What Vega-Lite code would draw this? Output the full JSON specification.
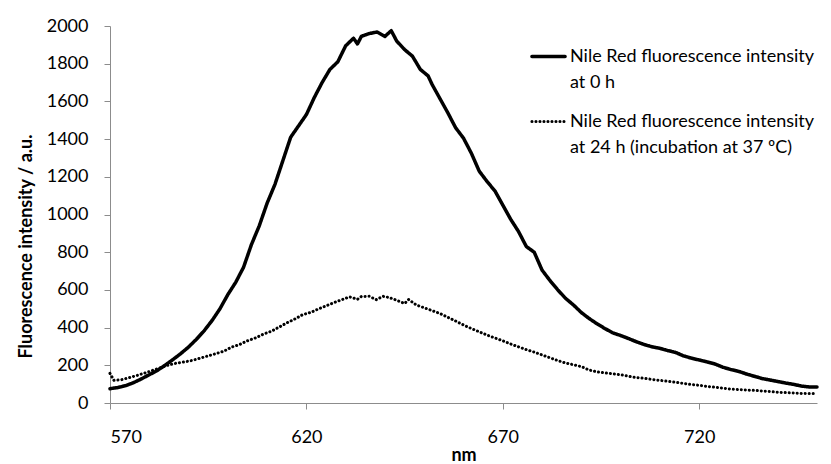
{
  "$schema": "https://vega.github.io/schema/vega-lite/v6.json",
  "width": 707,
  "height": 377,
  "autosize": {"type": "none"},
  "padding": {"left": 110, "top": 26, "right": 14, "bottom": 61},
  "background": "white",
  "config": {
    "view": {"stroke": null},
    "font": "Lato",
    "axis": {
      "grid": false,
      "domainColor": "#8c8c8c",
      "tickColor": "#8c8c8c",
      "tickSize": 6,
      "labelFont": "Lato",
      "labelFontSize": 18,
      "labelColor": "#000000",
      "titleFont": "Lato",
      "titleFontSize": 18,
      "titleFontWeight": "bold",
      "titleColor": "#000000"
    }
  },
  "data": {"values": [
    {"x":570,"y":76,"s":"a"},{"x":572,"y":82,"s":"a"},{"x":574,"y":92,"s":"a"},{"x":576,"y":108,"s":"a"},{"x":578,"y":128,"s":"a"},{"x":580,"y":150,"s":"a"},{"x":582,"y":172,"s":"a"},{"x":584,"y":200,"s":"a"},{"x":586,"y":230,"s":"a"},{"x":588,"y":262,"s":"a"},{"x":590,"y":297,"s":"a"},{"x":592,"y":338,"s":"a"},{"x":594,"y":384,"s":"a"},{"x":596,"y":438,"s":"a"},{"x":598,"y":500,"s":"a"},{"x":600,"y":575,"s":"a"},{"x":602,"y":640,"s":"a"},{"x":604,"y":720,"s":"a"},{"x":606,"y":840,"s":"a"},{"x":608,"y":940,"s":"a"},{"x":610,"y":1060,"s":"a"},{"x":612,"y":1160,"s":"a"},{"x":614,"y":1285,"s":"a"},{"x":616,"y":1410,"s":"a"},{"x":618,"y":1470,"s":"a"},{"x":620,"y":1530,"s":"a"},{"x":622,"y":1620,"s":"a"},{"x":624,"y":1700,"s":"a"},{"x":626,"y":1770,"s":"a"},{"x":628,"y":1810,"s":"a"},{"x":630,"y":1895,"s":"a"},{"x":632,"y":1935,"s":"a"},{"x":633,"y":1905,"s":"a"},{"x":634,"y":1945,"s":"a"},{"x":636,"y":1960,"s":"a"},{"x":638,"y":1968,"s":"a"},{"x":640,"y":1945,"s":"a"},{"x":641.6,"y":1975,"s":"a"},{"x":643,"y":1920,"s":"a"},{"x":645,"y":1875,"s":"a"},{"x":647,"y":1840,"s":"a"},{"x":649,"y":1770,"s":"a"},{"x":651,"y":1735,"s":"a"},{"x":652,"y":1690,"s":"a"},{"x":654,"y":1615,"s":"a"},{"x":656,"y":1540,"s":"a"},{"x":658,"y":1460,"s":"a"},{"x":660,"y":1405,"s":"a"},{"x":662,"y":1325,"s":"a"},{"x":664,"y":1230,"s":"a"},{"x":666,"y":1175,"s":"a"},{"x":668,"y":1125,"s":"a"},{"x":670,"y":1050,"s":"a"},{"x":672,"y":975,"s":"a"},{"x":674,"y":910,"s":"a"},{"x":676,"y":830,"s":"a"},{"x":678,"y":800,"s":"a"},{"x":680,"y":705,"s":"a"},{"x":682,"y":650,"s":"a"},{"x":684,"y":600,"s":"a"},{"x":686,"y":555,"s":"a"},{"x":688,"y":520,"s":"a"},{"x":690,"y":480,"s":"a"},{"x":692,"y":448,"s":"a"},{"x":694,"y":420,"s":"a"},{"x":696,"y":395,"s":"a"},{"x":698,"y":372,"s":"a"},{"x":700,"y":358,"s":"a"},{"x":702,"y":342,"s":"a"},{"x":704,"y":325,"s":"a"},{"x":706,"y":310,"s":"a"},{"x":708,"y":298,"s":"a"},{"x":710,"y":290,"s":"a"},{"x":712,"y":278,"s":"a"},{"x":714,"y":268,"s":"a"},{"x":716,"y":250,"s":"a"},{"x":718,"y":238,"s":"a"},{"x":720,"y":228,"s":"a"},{"x":722,"y":218,"s":"a"},{"x":724,"y":207,"s":"a"},{"x":726,"y":190,"s":"a"},{"x":728,"y":178,"s":"a"},{"x":730,"y":168,"s":"a"},{"x":732,"y":154,"s":"a"},{"x":734,"y":142,"s":"a"},{"x":736,"y":130,"s":"a"},{"x":738,"y":122,"s":"a"},{"x":740,"y":114,"s":"a"},{"x":742,"y":106,"s":"a"},{"x":744,"y":99,"s":"a"},{"x":746,"y":90,"s":"a"},{"x":748,"y":85,"s":"a"},{"x":750,"y":85,"s":"a"},
    {"x":570,"y":157,"s":"b"},{"x":571,"y":120,"s":"b"},{"x":573,"y":124,"s":"b"},{"x":575,"y":135,"s":"b"},{"x":577,"y":147,"s":"b"},{"x":579,"y":160,"s":"b"},{"x":581,"y":174,"s":"b"},{"x":583,"y":188,"s":"b"},{"x":585,"y":202,"s":"b"},{"x":587,"y":212,"s":"b"},{"x":589,"y":218,"s":"b"},{"x":591,"y":226,"s":"b"},{"x":593,"y":238,"s":"b"},{"x":595,"y":250,"s":"b"},{"x":597,"y":262,"s":"b"},{"x":599,"y":275,"s":"b"},{"x":601,"y":297,"s":"b"},{"x":603,"y":310,"s":"b"},{"x":605,"y":330,"s":"b"},{"x":607,"y":345,"s":"b"},{"x":609,"y":365,"s":"b"},{"x":611,"y":380,"s":"b"},{"x":613,"y":402,"s":"b"},{"x":615,"y":425,"s":"b"},{"x":617,"y":445,"s":"b"},{"x":619,"y":468,"s":"b"},{"x":621,"y":480,"s":"b"},{"x":623,"y":498,"s":"b"},{"x":625,"y":515,"s":"b"},{"x":627,"y":532,"s":"b"},{"x":629,"y":548,"s":"b"},{"x":631,"y":563,"s":"b"},{"x":633,"y":550,"s":"b"},{"x":634,"y":565,"s":"b"},{"x":636,"y":566,"s":"b"},{"x":637.8,"y":548,"s":"b"},{"x":639.5,"y":566,"s":"b"},{"x":641,"y":560,"s":"b"},{"x":643,"y":545,"s":"b"},{"x":645,"y":528,"s":"b"},{"x":646,"y":549,"s":"b"},{"x":648,"y":520,"s":"b"},{"x":650,"y":505,"s":"b"},{"x":652,"y":490,"s":"b"},{"x":654,"y":475,"s":"b"},{"x":656,"y":455,"s":"b"},{"x":658,"y":435,"s":"b"},{"x":660,"y":414,"s":"b"},{"x":662,"y":395,"s":"b"},{"x":664,"y":378,"s":"b"},{"x":666,"y":360,"s":"b"},{"x":668,"y":345,"s":"b"},{"x":670,"y":330,"s":"b"},{"x":672,"y":313,"s":"b"},{"x":674,"y":298,"s":"b"},{"x":676,"y":283,"s":"b"},{"x":678,"y":270,"s":"b"},{"x":680,"y":255,"s":"b"},{"x":682,"y":240,"s":"b"},{"x":684,"y":225,"s":"b"},{"x":686,"y":212,"s":"b"},{"x":688,"y":203,"s":"b"},{"x":690,"y":193,"s":"b"},{"x":692,"y":175,"s":"b"},{"x":694,"y":165,"s":"b"},{"x":696,"y":160,"s":"b"},{"x":698,"y":155,"s":"b"},{"x":700,"y":150,"s":"b"},{"x":702,"y":142,"s":"b"},{"x":704,"y":135,"s":"b"},{"x":706,"y":131,"s":"b"},{"x":708,"y":125,"s":"b"},{"x":710,"y":120,"s":"b"},{"x":712,"y":115,"s":"b"},{"x":714,"y":110,"s":"b"},{"x":716,"y":104,"s":"b"},{"x":718,"y":98,"s":"b"},{"x":720,"y":94,"s":"b"},{"x":722,"y":88,"s":"b"},{"x":724,"y":84,"s":"b"},{"x":726,"y":79,"s":"b"},{"x":728,"y":74,"s":"b"},{"x":730,"y":71,"s":"b"},{"x":732,"y":69,"s":"b"},{"x":734,"y":67,"s":"b"},{"x":736,"y":64,"s":"b"},{"x":738,"y":61,"s":"b"},{"x":740,"y":57,"s":"b"},{"x":742,"y":55,"s":"b"},{"x":744,"y":53,"s":"b"},{"x":746,"y":51,"s":"b"},{"x":748,"y":50,"s":"b"},{"x":750,"y":50,"s":"b"}
  ]},
  "mark": {"type": "line", "color": "#000000", "strokeCap": "round", "strokeJoin": "round"},
  "encoding": {
    "x": {
      "field": "x", "type": "quantitative",
      "scale": {"domain": [570, 750], "nice": false, "zero": false},
      "axis": {"values": [570, 620, 670, 720], "format": "d", "title": "nm", "labelPadding": 33, "labelBaseline": "alphabetic", "titleY": 57, "titleBaseline": "alphabetic", "titleX": 353.5}
    },
    "y": {
      "field": "y", "type": "quantitative",
      "scale": {"domain": [0, 2000], "nice": false},
      "axis": {"values": [0, 200, 400, 600, 800, 1000, 1200, 1400, 1600, 1800, 2000], "format": "d", "title": "Fluorescence intensity / a.u.", "labelPadding": 16, "titleX": -79, "titleY": 220, "titleAngle": 270, "titleBaseline": "alphabetic", "titleAlign": "center"}
    },
    "strokeDash": {
      "field": "s", "type": "nominal",
      "scale": {"domain": ["a", "b"], "range": [[1, 0], [0.1, 3.9]]},
      "legend": {
        "title": null,
        "orient": "none",
        "legendX": 420,
        "legendY": 12,
        "symbolType": "stroke",
        "symbolSize": 1100,
        "symbolStrokeWidth": 3.5,
        "symbolStrokeColor": "#000000",
        "labelFont": "Lato",
        "labelFontSize": 18,
        "labelColor": "#000000",
        "labelLimit": 500,
        "labelOffset": 3,
        "rowPadding": 11,
        "labelExpr": "datum.value == 'a' ? ['Nile Red fluorescence intensity', 'at 0 h'] : ['Nile Red fluorescence intensity', 'at 24 h (incubation  at 37 ºC)']",
        "encode": {
          "symbols": {"update": {"strokeCap": {"value": "round"}}},
          "labels": {"update": {"lineHeight": {"value": 26.5}}}
        }
      }
    },
    "strokeWidth": {
      "field": "s", "type": "nominal",
      "scale": {"domain": ["a", "b"], "range": [3.5, 3]},
      "legend": null
    }
  }
}
